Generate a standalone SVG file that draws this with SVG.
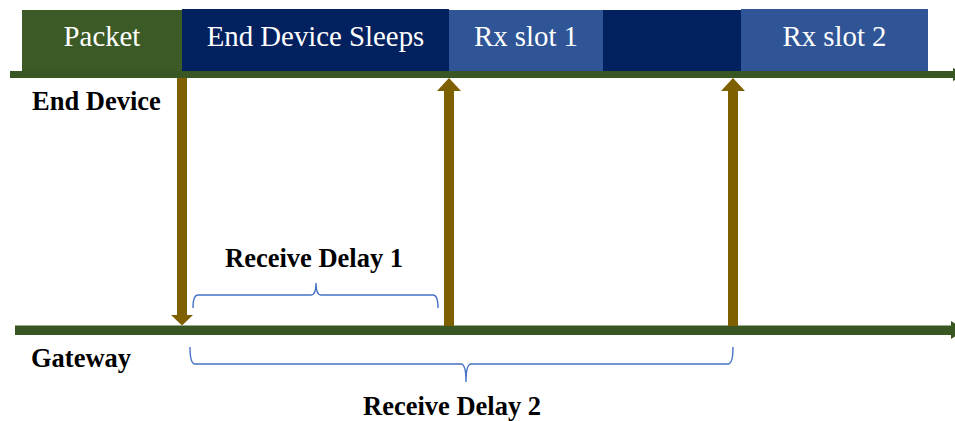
<svg xmlns="http://www.w3.org/2000/svg" width="955" height="421" viewBox="0 0 955 421">
  <style>
    .slot-text { font-family: "Liberation Serif", "Times New Roman", serif; font-size: 28.8px; fill: #ffffff; text-anchor: middle; }
    .label { font-family: "Liberation Serif", "Times New Roman", serif; font-size: 26.5px; font-weight: bold; fill: #000000; }
    .green { fill: #3b5a26; }
    .navy { fill: #03205f; }
    .blue { fill: #2f5597; }
    .timeline { fill: #385723; }
    .signal { fill: #7f6000; }
    .brace { fill: none; stroke: #4472c4; stroke-width: 1.4; }
  </style>
  <rect width="955" height="421" fill="#ffffff"/>

  <!-- Activity bar of the end device -->
  <g id="packet">
    <rect class="green" x="22" y="10" width="160" height="62"/>
    <text class="slot-text" x="102" y="46">Packet</text>
  </g>
  <g id="sleep-1">
    <rect class="navy" x="182" y="9" width="267" height="63"/>
    <text class="slot-text" x="315.5" y="46">End Device Sleeps</text>
  </g>
  <g id="rx-slot-1">
    <rect class="blue" x="449" y="10" width="154" height="62"/>
    <text class="slot-text" x="526" y="46">Rx slot 1</text>
  </g>
  <g id="sleep-2">
    <rect class="navy" x="603" y="10" width="138" height="62"/>
  </g>
  <g id="rx-slot-2">
    <rect class="blue" x="741" y="9" width="187" height="63"/>
    <text class="slot-text" x="834.5" y="46">Rx slot 2</text>
  </g>

  <!-- Time axes -->
  <g id="end-device-axis">
    <rect class="timeline" x="10" y="71" width="944" height="7"/>
    <polygon class="timeline" points="953,68 953,81 966,74.5"/>
    <text class="label" x="32" y="110">End Device</text>
  </g>
  <g id="gateway-axis">
    <rect class="timeline" x="15" y="325.5" width="938" height="9.5"/>
    <polygon class="timeline" points="951,321 951,339 966,330"/>
    <text class="label" x="31" y="367">Gateway</text>
  </g>

  <!-- Delay spans -->
  <g id="receive-delay-1">
    <path class="brace" d="M193,308 Q193,295 198,295 L311,295 Q316,295 316,283 Q316,295 321,295 L433,295 Q438,295 438,308"/>
    <text class="label" x="225" y="267">Receive Delay 1</text>
  </g>
  <g id="receive-delay-2">
    <path class="brace" d="M190,347 Q190,364 195,364 L461,364 Q466,364 466,382 Q466,364 471,364 L728,364 Q733,364 733,347"/>
    <text class="label" x="363" y="415">Receive Delay 2</text>
  </g>

  <!-- Uplink and receive-window signals -->
  <g id="connectors">
    <g id="uplink">
      <rect class="signal" x="177" y="78" width="10" height="238"/>
      <polygon class="signal" points="171,315 193,315 182,325.5"/>
    </g>
    <g id="rx1-open">
      <rect class="signal" x="444" y="90" width="10" height="236"/>
      <polygon class="signal" points="437,91 461,91 449,78"/>
    </g>
    <g id="rx2-open">
      <rect class="signal" x="728" y="90" width="10" height="236"/>
      <polygon class="signal" points="721,91 745,91 733,78"/>
    </g>
  </g>
</svg>
